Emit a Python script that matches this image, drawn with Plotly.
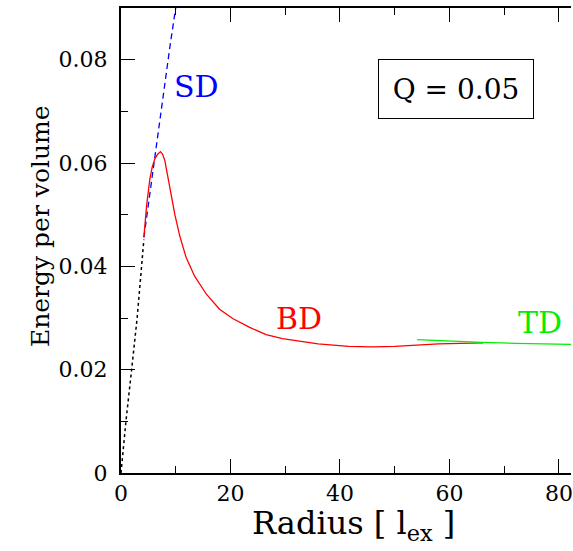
import plotly.graph_objects as go

# Black dotted branch from the origin
dot_r = [0.0, 0.9, 1.94, 2.95, 3.76, 4.18]
dot_e = [0.0, 0.010, 0.020, 0.030, 0.040, 0.0452]

# SD branch (blue dashed)
sd_r = [4.18, 5.0, 6.0, 7.0, 8.0, 9.0, 10.2]
sd_e = [0.0456, 0.0520, 0.0590, 0.0674, 0.0752, 0.0830, 0.0915]

# BD branch (red)
bd_r = [4.18, 4.67, 5.27, 5.7, 6.18, 6.7, 7.21, 7.6, 8.0, 8.45, 8.9, 9.35, 9.82, 10.73,
        11.9, 13.45, 15.6, 18.0, 20.4, 23.5, 26.5, 29.5, 32.5, 36.0, 41.6, 45.8, 50.0,
        53.8, 58.0, 62.0, 66.2]
bd_e = [0.0456, 0.0517, 0.0569, 0.0592, 0.0608, 0.0617, 0.0622, 0.0617, 0.0605, 0.0580,
        0.0550, 0.0525, 0.0501, 0.0459, 0.0417, 0.0381, 0.0346, 0.0317, 0.0299, 0.0282,
        0.0268, 0.0260, 0.0255, 0.0250, 0.0245, 0.0244, 0.0245, 0.0248, 0.0250, 0.0251,
        0.0252]

# TD branch (green)
td_r = [54.1, 60.0, 66.0, 72.0, 78.0, 83.0]
td_e = [0.0258, 0.0255, 0.0253, 0.0251, 0.0250, 0.0249]

x_ticks = [0, 20, 40, 60, 80]
y_ticks = [0, 0.02, 0.04, 0.06, 0.08]
y_tick_text = ["0", "0.02", "0.04", "0.06", "0.08"]

FONT = "DejaVu Serif"

fig = go.Figure()
fig.add_trace(go.Scatter(x=dot_r, y=dot_e, mode="lines",
                         line=dict(color="black", width=1.5, dash="dot")))
fig.add_trace(go.Scatter(x=sd_r, y=sd_e, mode="lines",
                         line=dict(color="#0000ff", width=1.3, dash="6px,4px")))
fig.add_trace(go.Scatter(x=bd_r, y=bd_e, mode="lines",
                         line=dict(color="#ff0000", width=1.3)))
fig.add_trace(go.Scatter(x=td_r, y=td_e, mode="lines",
                         line=dict(color="#00ee00", width=1.3)))

# Branch labels
fig.add_annotation(x=13.76, y=0.0748, text="SD", showarrow=False,
                   font=dict(family=FONT, size=30, color="#0000ff"))
fig.add_annotation(x=32.6, y=0.0299, text="BD", showarrow=False,
                   font=dict(family=FONT, size=30, color="#ff0000"))
fig.add_annotation(x=76.5, y=0.0291, text="TD", showarrow=False,
                   font=dict(family=FONT, size=30, color="#00ee00"))

# Parameter box
fig.add_annotation(x=61.2, y=0.0743, text="Q = 0.05", showarrow=False,
                   font=dict(family=FONT, size=28, color="black"),
                   width=140, height=44,
                   bordercolor="black", borderwidth=1, borderpad=7,
                   bgcolor="white")

# Axis titles
fig.add_annotation(xref="paper", yref="paper", x=0.517, y=-0.112,
                   xanchor="center", yanchor="middle", showarrow=False,
                   text="Radius [ l<sub>ex</sub> ]",
                   font=dict(family=FONT, size=32, color="black"))
fig.add_annotation(xref="paper", yref="paper", x=-0.179, y=0.532,
                   xanchor="center", yanchor="middle", showarrow=False,
                   textangle=-90, text="Energy per volume",
                   font=dict(family=FONT, size=25, color="black"))

fig.update_layout(
    width=573, height=551,
    margin=dict(l=121, r=0, t=8, b=78),
    paper_bgcolor="white", plot_bgcolor="white",
    showlegend=False,
    font=dict(family=FONT, color="black"),
    xaxis=dict(range=[0, 82.2], tickvals=x_ticks, ticks="inside", ticklen=14,
               tickwidth=1.3, tickcolor="black", showline=True, linecolor="black",
               linewidth=2, mirror="ticks", showgrid=False, zeroline=False,
               ticklabeloverflow="allow",
               tickfont=dict(family=FONT, size=22),
               minor=dict(dtick=10, ticks="inside", ticklen=7, tickwidth=1.3,
                          tickcolor="black", showgrid=False)),
    yaxis=dict(range=[0, 0.09], tickvals=y_ticks, ticktext=y_tick_text,
               ticks="inside", ticklen=14, tickwidth=1.3, tickcolor="black",
               showline=True, linecolor="black", linewidth=2, mirror=False,
               showgrid=False, zeroline=False, ticklabelstandoff=7,
               tickfont=dict(family=FONT, size=22),
               minor=dict(dtick=0.01, ticks="inside", ticklen=7, tickwidth=1.3,
                          tickcolor="black", showgrid=False)),
)

fig.write_html("out.html")
